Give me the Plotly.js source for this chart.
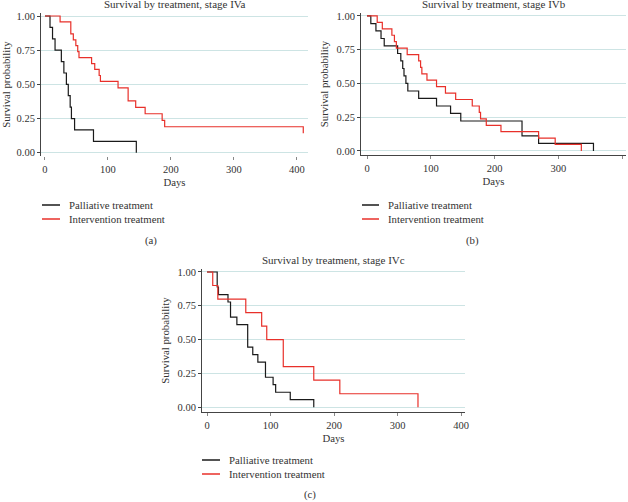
<!DOCTYPE html>
<html>
<head>
<meta charset="utf-8">
<script src="https://cdn.plot.ly/plotly-3.0.1.min.js"></script>
<style>html,body{margin:0;padding:0;background:#fff;}#chart{width:628px;height:502px;}</style>
</head>
<body>
<div id="chart"></div>
<script>
// ---- Data ----
const seriesNames = ["Palliative treatment", "Intervention treatment"];
const panelTitles = ["Survival by treatment, stage IVa", "Survival by treatment, stage IVb", "Survival by treatment, stage IVc"];
const panelLabels = ["(a)", "(b)", "(c)"];
const xTickVals = [0, 100, 200, 300, 400];
const yTickVals = [0, 0.25, 0.5, 0.75, 1];
const yTickText = ["0.00", "0.25", "0.50", "0.75", "1.00"];

// Stage IVa
const aPalDays = [0, 8, 12, 16, 26, 30, 34, 37, 40, 42, 47, 77, 145];
const aPalSurv = [1, 0.917, 0.833, 0.75, 0.667, 0.583, 0.5, 0.417, 0.333, 0.25, 0.167, 0.083, 0];
const aIntDays = [0, 24, 41, 45, 49, 52, 54, 74, 79, 86, 88, 116, 132, 144, 159, 186, 190, 410];
const aIntSurv = [1, 0.957, 0.870, 0.826, 0.783, 0.739, 0.696, 0.652, 0.609, 0.565, 0.522, 0.474, 0.379, 0.332, 0.285, 0.237, 0.19, 0.143];

// Stage IVb
const bPalDays = [0, 6, 14, 22, 27, 48, 53, 56, 58, 61, 64, 81, 109, 131, 147, 243, 269, 355];
const bPalSurv = [1, 0.944, 0.889, 0.833, 0.778, 0.722, 0.667, 0.611, 0.556, 0.5, 0.444, 0.389, 0.333, 0.278, 0.222, 0.111, 0.056, 0];
const bIntDays = [0, 16, 24, 39, 43, 46, 63, 81, 84, 86, 94, 109, 123, 139, 165, 176, 178, 187, 210, 269, 295, 336];
const bIntSurv = [1, 0.952, 0.905, 0.857, 0.810, 0.762, 0.714, 0.667, 0.619, 0.571, 0.524, 0.476, 0.429, 0.381, 0.333, 0.286, 0.238, 0.190, 0.143, 0.095, 0.048, 0];

// Stage IVc
const cPalDays = [0, 16, 18, 33, 37, 47, 64, 72, 80, 92, 104, 108, 131, 168];
const cPalSurv = [1, 0.889, 0.833, 0.778, 0.667, 0.611, 0.444, 0.389, 0.333, 0.222, 0.167, 0.111, 0.056, 0];
const cIntDays = [0, 9, 17, 61, 86, 94, 120, 168, 209, 332];
const cIntSurv = [1, 0.9, 0.8, 0.7, 0.6, 0.5, 0.3, 0.2, 0.1, 0];

// ---- Styling ----
const FONT = "Liberation Serif, Times New Roman, serif";
const TXT = "#333333";
const palColor = "#1a1a1a";
const intColor = "#e8302a";
const seriesColors = [palColor, intColor];
const gridColor = "#cde4e4";
const W = 628, H = 502;
const px = v => v / W;
const py = v => 1 - v / H;

const panels = [
  {pal: [aPalDays, aPalSurv], int: [aIntDays, aIntSurv], x: [41, 308], y: [13, 156], xr: [-6.3, 417.5], yr: [-0.024, 1.022], xline: false,
   leg: {x0: 42, x1: 60, tx: 67, rows: [205, 219]}, lab: [151, 240]},
  {pal: [bPalDays, bPalSurv], int: [bIntDays, bIntSurv], x: [361, 626], y: [13, 155], xr: [-9.4, 406], yr: [-0.03, 1.022], xline: true,
   leg: {x0: 362, x1: 379, tx: 386, rows: [205, 219]}, lab: [472, 240]},
  {pal: [cPalDays, cPalSurv], int: [cIntDays, cIntSurv], x: [202, 465], y: [269, 412], xr: [-7.9, 406], yr: [-0.035, 1.022], xline: true,
   leg: {x0: 202, x1: 220, tx: 227, rows: [460, 474]}, lab: [310, 494]}
];

const data = [];
const layout = {
  width: W, height: H,
  margin: {l: 0, r: 0, t: 0, b: 0},
  paper_bgcolor: "#ffffff", plot_bgcolor: "#ffffff",
  font: {family: FONT, size: 10, color: TXT},
  annotations: [], shapes: [], showlegend: false
};

panels.forEach((p, i) => {
  const n = i === 0 ? "" : String(i + 1);
  const xa = "x" + n, ya = "y" + n;
  data.push({
    x: p.pal[0], y: p.pal[1], xaxis: xa, yaxis: ya, type: "scatter", mode: "lines",
    line: {shape: "hv", color: palColor, width: 1.2}, name: seriesNames[0]
  });
  data.push({
    x: p.int[0], y: p.int[1], xaxis: xa, yaxis: ya, type: "scatter", mode: "lines",
    line: {shape: "hv", color: intColor, width: 1.2}, name: seriesNames[1]
  });
  layout["xaxis" + n] = {
    domain: [px(p.x[0]), px(p.x[1])], range: p.xr, anchor: ya,
    tickvals: xTickVals, ticks: "outside", ticklen: 3, tickcolor: "#888",
    showgrid: false, zeroline: false, showline: p.xline, linecolor: "#444", linewidth: 1,
    tickfont: {family: FONT, size: 10.5, color: TXT},
    title: {text: "Days", font: {family: FONT, size: 10.75, color: TXT}, standoff: 4}
  };
  layout["yaxis" + n] = {
    domain: [py(p.y[1]), py(p.y[0])], range: p.yr, anchor: xa,
    tickvals: yTickVals, ticktext: yTickText, ticks: "outside", ticklen: 3, tickcolor: "#444",
    showgrid: true, gridcolor: gridColor, gridwidth: 1, zeroline: false,
    showline: true, linecolor: "#444", linewidth: 1,
    tickfont: {family: FONT, size: 10.5, color: TXT},
    title: {text: "Survival probability", font: {family: FONT, size: 10.75, color: TXT}, standoff: 5}
  };
  layout.annotations.push({
    text: panelTitles[i], xref: "paper", yref: "paper",
    x: px((p.x[0] + p.x[1]) / 2), y: py(p.y[0] - 9), xanchor: "center", yanchor: "middle",
    showarrow: false, font: {family: FONT, size: 11, color: TXT}
  });
  // legend (line sample + text)
  seriesNames.forEach((nm, k) => {
    layout.shapes.push({
      type: "line", xref: "paper", yref: "paper",
      x0: px(p.leg.x0), x1: px(p.leg.x1), y0: py(p.leg.rows[k]), y1: py(p.leg.rows[k]),
      line: {color: seriesColors[k], width: 1.5}
    });
    layout.annotations.push({
      text: nm, xref: "paper", yref: "paper", x: px(p.leg.tx), y: py(p.leg.rows[k]),
      xanchor: "left", yanchor: "middle", showarrow: false,
      font: {family: FONT, size: 10.75, color: TXT}
    });
  });
  layout.annotations.push({
    text: panelLabels[i], xref: "paper", yref: "paper", x: px(p.lab[0]), y: py(p.lab[1]),
    xanchor: "center", yanchor: "middle", showarrow: false,
    font: {family: FONT, size: 10.75, color: TXT}
  });
});

Plotly.newPlot("chart", data, layout, {staticPlot: true});
</script>
</body>
</html>
